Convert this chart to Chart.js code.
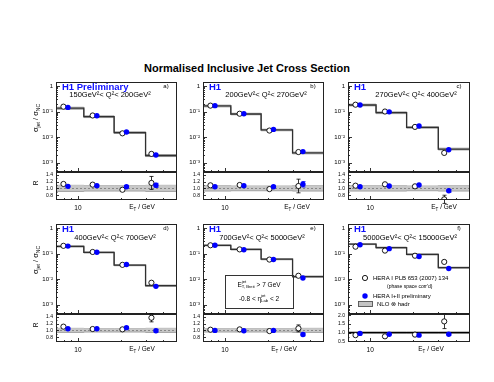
<!DOCTYPE html>
<html>
<head>
<meta charset="utf-8">
<title>Normalised Inclusive Jet Cross Section</title>
<script src="https://cdn.jsdelivr.net/npm/chart.js@4.4.1/dist/chart.umd.min.js"></script>
<style>
  body { margin: 0; width: 494px; height: 382px; background: #fff; position: relative; overflow: hidden; }
  #title { position: absolute; left: 0; top: 62px; width: 494px; text-align: center; font: bold 11px "Liberation Sans", Arial, sans-serif; }
  canvas { position: absolute; }
</style>
</head>
<body>
<div id="title">Normalised Inclusive Jet Cross Section</div>
<script>
// panels a) .. f)
const panelTags = ['a)', 'b)', 'c)', 'd)', 'e)', 'f)'];
const experimentTags = ['H1 Preliminary', 'H1', 'H1', 'H1', 'H1', 'H1'];
const q2Ranges = [
  '150GeV²< Q²< 200GeV²',
  '200GeV²< Q²< 270GeV²',
  '270GeV²< Q²< 400GeV²',
  '400GeV²< Q²< 700GeV²',
  '700GeV²< Q²< 5000GeV²',
  '5000GeV²< Q²< 15000GeV²'
];
const binEdges = [7, 11, 18, 30, 50];
const etHeraI = [7.9, 12.7, 20.6, 33.0];
const etHeraII = [8.5, 13.6, 22.0, 35.5];

const nloXsec = [
  [0.135, 0.063, 0.0150, 0.0019],
  [0.165, 0.080, 0.0190, 0.0024],
  [0.180, 0.090, 0.0240, 0.0034],
  [0.190, 0.110, 0.0350, 0.0055],
  [0.210, 0.145, 0.0600, 0.0125],
  [0.235, 0.170, 0.0920, 0.0280]
];
const nloRelErr = [
  [0.09, 0.08, 0.08, 0.09],
  [0.08, 0.07, 0.07, 0.08],
  [0.08, 0.08, 0.07, 0.08],
  [0.06, 0.05, 0.05, 0.06],
  [0.05, 0.05, 0.05, 0.06],
  [0.05, 0.05, 0.05, 0.05]
];
const heraIXsec = [
  [0.155, 0.070, 0.0140, 0.0022],
  [0.170, 0.082, 0.0180, 0.0026],
  [0.185, 0.100, 0.0250, 0.0024],
  [0.200, 0.115, 0.0360, 0.0072],
  [0.210, 0.145, 0.0580, 0.0135],
  [0.185, 0.130, 0.0820, 0.0470]
];
const heraIIXsec = [
  [0.145, 0.068, 0.0157, 0.0020],
  [0.170, 0.082, 0.0200, 0.0027],
  [0.180, 0.097, 0.0270, 0.0032],
  [0.195, 0.112, 0.0370, 0.0052],
  [0.210, 0.140, 0.0580, 0.0110],
  [0.220, 0.155, 0.0760, 0.0260]
];
const heraIRatio = [
  [1.13, 1.11, 0.96, 1.16],
  [1.09, 1.10, 0.98, 1.07],
  [1.08, 1.12, 1.06, 0.68],
  [1.11, 1.04, 1.03, 1.37],
  [1.02, 1.03, 0.98, 1.06],
  [0.85, 0.78, 0.88, 1.65]
];
const heraIRatioErr = [
  [0.02, 0.02, 0.03, 0.19],
  [0.02, 0.02, 0.03, 0.20],
  [0.02, 0.02, 0.03, 0.12],
  [0.02, 0.02, 0.03, 0.12],
  [0.02, 0.02, 0.04, 0.10],
  [0.03, 0.03, 0.05, 0.42]
];
const heraIIRatio = [
  [1.06, 1.08, 1.05, 1.09],
  [1.05, 1.08, 1.05, 1.12],
  [1.05, 1.07, 1.10, 0.93],
  [1.05, 1.05, 1.08, 0.99],
  [1.00, 0.99, 1.00, 0.88],
  [0.95, 0.90, 0.85, 0.90]
];
const heraIIRatioErr = [
  [0.01, 0.01, 0.02, 0.06],
  [0.01, 0.01, 0.02, 0.08],
  [0.01, 0.01, 0.02, 0.04],
  [0.01, 0.01, 0.02, 0.04],
  [0.01, 0.01, 0.02, 0.04],
  [0.01, 0.01, 0.02, 0.05]
];
const xsecTicks = [0.001, 0.01, 0.1, 1];
const ratioTicks = [
  [0.8, 1.0, 1.2, 1.4], [0.8, 1.0, 1.2, 1.4], [0.8, 1.0, 1.2, 1.4],
  [0.8, 1.0, 1.2, 1.4], [0.8, 1.0, 1.2, 1.4], [0.5, 1.0, 1.5, 2.0]
];
const ratioRange = [[0.66, 1.48], [0.66, 1.48], [0.66, 1.48], [0.66, 1.48], [0.66, 1.48], [0.45, 2.08]];
const etTicks = [10];

// layout (page pixels)
const FONT = '"Liberation Sans", Arial, Helvetica, sans-serif';
const colL = [56, 203, 348], colR = [177, 324, 470];
const rowT = [82, 224], rowB = [172, 314], rowRB = [200, 342];
const ML = 30, MR = 6, PADV = 8, XAX = 22;
const q2Dx = [54, 63, 68, 59, 59, 62];
const xTitleDx = [86, 94, 96, 86, 81, 83];

function makeCanvas(x, y, w, h) {
  const c = document.createElement('canvas');
  c.width = w; c.height = h;
  c.style.left = x + 'px'; c.style.top = y + 'px';
  c.style.width = w + 'px'; c.style.height = h + 'px';
  document.body.appendChild(c);
  return c;
}

// text with sub/superscripts: parts {t, s, dy, w, stay}
function rich(ctx, parts, x, y, align) {
  let width = 0;
  parts.forEach(p => {
    ctx.font = (p.w || 'normal') + ' ' + p.s + 'px ' + FONT;
    if (!p.stay) width += ctx.measureText(p.t).width;
  });
  let cx = align === 'center' ? x - width / 2 : (align === 'right' ? x - width : x);
  ctx.textAlign = 'left';
  ctx.textBaseline = 'middle';
  parts.forEach(p => {
    ctx.font = (p.w || 'normal') + ' ' + p.s + 'px ' + FONT;
    ctx.fillText(p.t, cx, y + (p.dy || 0));
    if (!p.stay) cx += ctx.measureText(p.t).width;
  });
}

function pts(xs, ys) {
  return xs.map((x, i) => ({ x: x, y: ys[i] }));
}

function logLabel(v) {
  const e = Math.round(Math.log10(v));
  return e === 0 ? '1' : '10⁻' + '¹²³⁴'[-e - 1];
}

function drawFrame(chart, xMarks, yMarks) {
  const { ctx, chartArea: a, scales } = chart;
  ctx.save();
  ctx.strokeStyle = '#000';
  ctx.lineWidth = 0.8;
  ctx.beginPath();
  xMarks.forEach(([v, len]) => {
    const px = Math.round(scales.x.getPixelForValue(v)) + 0.5;
    ctx.moveTo(px, a.bottom); ctx.lineTo(px, a.bottom - len);
  });
  yMarks.forEach(([v, len]) => {
    const py = Math.round(scales.y.getPixelForValue(v)) + 0.5;
    ctx.moveTo(a.left, py); ctx.lineTo(a.left + len, py);
  });
  ctx.stroke();
  ctx.strokeStyle = '#222';
  ctx.lineWidth = 1;
  ctx.strokeRect(a.left + 0.5, a.top + 0.5, a.right - a.left - 1, a.bottom - a.top - 1);
  ctx.restore();
}

const etMarks = [[7, 2], [8, 2], [9, 2], [10, 4], [20, 2], [30, 2], [40, 2]];
const xsecMarks = [];
for (let d = -4; d <= 0; d++) {
  for (let m = 1; m <= 9; m++) {
    const v = m * Math.pow(10, d);
    if (v > 4.3e-4 && v < 1.43) xsecMarks.push([v, m === 1 ? 4 : 2]);
  }
}

const common = {
  responsive: false,
  animation: false,
  devicePixelRatio: 1,
  events: [],
  plugins: { legend: { display: false }, tooltip: { enabled: false } }
};

function makePanel(p) {
  const c = p % 3, r = Math.floor(p / 3);
  const L = colL[c], R = colR[c], T = rowT[r], B = rowB[r], RB = rowRB[r];
  const W = ML + (R - L) + MR;
  const nlo = nloXsec[p], err = nloRelErr[p];
  const last = i => Math.min(i, nlo.length - 1);

  // ---- cross section panel ----
  const mainDeco = {
    id: 'mainDeco',
    afterDraw(chart) {
      const { ctx, chartArea: a } = chart;
      drawFrame(chart, etMarks, xsecMarks);
      ctx.save();
      ctx.fillStyle = '#1010ff';
      rich(ctx, [{ t: experimentTags[p], s: 9.5, w: 'bold' }], a.left + 6, a.top + 5, 'left');
      ctx.fillStyle = '#000';
      rich(ctx, [{ t: panelTags[p], s: 6 }], a.right - 11, a.top + 4, 'center');
      rich(ctx, [{ t: q2Ranges[p], s: 7.5 }], a.left + q2Dx[p], a.top + 13 + r, 'center');
      if (c === 0) {
        ctx.save();
        ctx.translate(a.left - 20, a.top + 36);
        ctx.rotate(-Math.PI / 2);
        rich(ctx, [{ t: 'σ', s: 7.5 }, { t: 'jet', s: 5, dy: 2.5 }, { t: ' / σ', s: 7.5 }, { t: 'NC', s: 5, dy: 2.5 }], 0, 0, 'center');
        ctx.restore();
      }
      if (p === 4) {
        ctx.strokeStyle = '#333';
        ctx.lineWidth = 1;
        ctx.strokeRect(a.left + 22.5, a.top + 51.5, 68, 33);
        rich(ctx, [{ t: 'E', s: 6.5 }, { t: 'jet', s: 4.2, dy: -3, stay: true }, { t: 'T, Breit', s: 4.2, dy: 2 },
                   { t: ' > 7 GeV', s: 6.5 }], a.left + 56, a.top + 61, 'center');
        rich(ctx, [{ t: '-0.8 < η', s: 6.5 }, { t: 'jet', s: 4.2, dy: -3, stay: true }, { t: 'Lab', s: 4.2, dy: 2 },
                   { t: ' < 2', s: 6.5 }], a.left + 56, a.top + 75, 'center');
      }
      if (p === 5) {
        ctx.lineWidth = 0.9;
        ctx.strokeStyle = '#000';
        ctx.fillStyle = '#fff';
        ctx.beginPath(); ctx.arc(a.left + 17, a.top + 54, 2.6, 0, 2 * Math.PI); ctx.fill(); ctx.stroke();
        ctx.fillStyle = '#0000ff';
        ctx.beginPath(); ctx.arc(a.left + 17, a.top + 72, 2.7, 0, 2 * Math.PI); ctx.fill();
        ctx.fillStyle = '#c4c4c4';
        ctx.fillRect(a.left + 10, a.top + 77, 15, 6);
        ctx.strokeStyle = '#555';
        ctx.strokeRect(a.left + 10.5, a.top + 77.5, 14, 5);
        ctx.fillStyle = '#000';
        rich(ctx, [{ t: 'HERA I PLB 653 (2007) 134', s: 6 }], a.left + 25, a.top + 54, 'left');
        rich(ctx, [{ t: "(phase space corr'd)", s: 5 }], a.left + 39, a.top + 63, 'left');
        rich(ctx, [{ t: 'HERA I+II preliminary', s: 6 }], a.left + 25, a.top + 72, 'left');
        rich(ctx, [{ t: 'NLO ⊗ hadr', s: 6 }], a.left + 29, a.top + 80, 'left');
      }
      ctx.restore();
    }
  };

  new Chart(makeCanvas(L - ML, T - PADV, W, (B - T) + 2 * PADV), {
    type: 'scatter',
    data: {
      datasets: [
        { data: binEdges.map((x, i) => ({ x: x, y: nlo[last(i)] * (1 + err[last(i)]) })), showLine: true, stepped: true,
          borderColor: '#808080', borderWidth: 0.7, pointRadius: 0, order: 4 },
        { data: binEdges.map((x, i) => ({ x: x, y: nlo[last(i)] * (1 - err[last(i)]) })), showLine: true, stepped: true,
          borderColor: '#808080', borderWidth: 0.7, pointRadius: 0, fill: '-1', backgroundColor: '#c4c4c4', order: 3 },
        { data: binEdges.map((x, i) => ({ x: x, y: nlo[last(i)] })), showLine: true, stepped: true,
          borderColor: '#303030', borderWidth: 1.3, pointRadius: 0, order: 2 },
        { data: pts(etHeraI, heraIXsec[p]), pointRadius: 2.6, pointBackgroundColor: '#fff',
          pointBorderColor: '#000', pointBorderWidth: 0.9, order: 1 },
        { data: pts(etHeraII, heraIIXsec[p]), pointRadius: 2.7, pointBackgroundColor: '#0000ff',
          pointBorderColor: '#0000ff', pointBorderWidth: 0, order: 0 }
      ]
    },
    options: Object.assign({}, common, {
      layout: { padding: { left: 0, right: MR, top: PADV, bottom: PADV } },
      scales: {
        x: { type: 'logarithmic', min: binEdges[0], max: binEdges[binEdges.length - 1], display: false },
        y: {
          type: 'logarithmic', min: 4.3e-4, max: 1.43,
          afterFit: s => { s.width = ML; },
          afterBuildTicks: s => { s.ticks = xsecTicks.map(v => ({ value: v })); },
          ticks: { callback: v => logLabel(v), font: { size: 6, family: FONT }, color: '#000', padding: 3, autoSkip: false },
          grid: { display: false, drawTicks: false },
          border: { display: false }
        }
      }
    }),
    plugins: [mainDeco]
  });

  // ---- ratio panel ----
  const rTicks = ratioTicks[p], rRange = ratioRange[p];
  const step = rTicks[1] - rTicks[0];
  const ratioMarks = [];
  for (let v = rTicks[0] - step; v <= rRange[1]; v += step / 2) {
    if (v >= rRange[0]) ratioMarks.push([v, Math.abs(((v - rTicks[0]) / step) % 1) < 0.01 ? 3 : 1.5]);
  }

  const ratioDeco = {
    id: 'ratioDeco',
    afterDatasetDraw(chart, args) {
      if (args.index !== 2) return;
      const { ctx, scales: { x, y } } = chart;
      ctx.save();
      ctx.lineWidth = 0.8;
      [[etHeraI, heraIRatio[p], heraIRatioErr[p], '#000'], [etHeraII, heraIIRatio[p], heraIIRatioErr[p], '#0000ff']].forEach(([xs, ys, es, col]) => {
        ctx.strokeStyle = col;
        ctx.beginPath();
        xs.forEach((xv, i) => {
          if (es[i] < 0.03) return;
          const px = Math.round(x.getPixelForValue(xv)) + 0.5;
          const y1 = y.getPixelForValue(ys[i] - es[i]), y2 = y.getPixelForValue(ys[i] + es[i]);
          ctx.moveTo(px, y1); ctx.lineTo(px, y2);
          ctx.moveTo(px - 2, y1); ctx.lineTo(px + 2, y1);
          ctx.moveTo(px - 2, y2); ctx.lineTo(px + 2, y2);
        });
        ctx.stroke();
      });
      ctx.restore();
    },
    afterDraw(chart) {
      const { ctx, chartArea: a } = chart;
      drawFrame(chart, etMarks, ratioMarks);
      ctx.save();
      ctx.fillStyle = '#000';
      rich(ctx, [{ t: 'E', s: 6.5 }, { t: 'T', s: 4.5, dy: 2 }, { t: ' / GeV', s: 6.5 }], a.left + xTitleDx[p], a.bottom + 7.5, 'center');
      if (c === 0) {
        ctx.save();
        ctx.translate(a.left - 20, a.top + 11);
        ctx.rotate(-Math.PI / 2);
        rich(ctx, [{ t: 'R', s: 6.5 }], 0, 0, 'center');
        ctx.restore();
      }
      ctx.restore();
    }
  };

  new Chart(makeCanvas(L - ML, B - PADV, W, (RB - B) + PADV + XAX), {
    type: 'scatter',
    data: {
      datasets: [
        { data: binEdges.map((x, i) => ({ x: x, y: 1 + err[last(i)] })), showLine: true, stepped: true,
          borderColor: '#8a8a8a', borderWidth: 0.7, pointRadius: 0, order: 4 },
        { data: binEdges.map((x, i) => ({ x: x, y: 1 - err[last(i)] })), showLine: true, stepped: true,
          borderColor: '#8a8a8a', borderWidth: 0.7, pointRadius: 0, fill: '-1', backgroundColor: '#c8c8c8', order: 3 },
        { data: [{ x: binEdges[0], y: 1 }, { x: binEdges[binEdges.length - 1], y: 1 }], showLine: true,
          borderColor: p === 5 ? '#000' : '#777', borderWidth: p === 5 ? 1.2 : 0.8, borderDash: p === 5 ? [] : [2, 2],
          pointRadius: 0, order: 2 },
        { data: pts(etHeraI, heraIRatio[p]), pointRadius: 2.6, pointBackgroundColor: '#fff',
          pointBorderColor: '#000', pointBorderWidth: 0.9, order: 1 },
        { data: pts(etHeraII, heraIIRatio[p]), pointRadius: 2.7, pointBackgroundColor: '#0000ff',
          pointBorderColor: '#0000ff', pointBorderWidth: 0, order: 0 }
      ]
    },
    options: Object.assign({}, common, {
      layout: { padding: { left: 0, right: MR, top: PADV, bottom: 0 } },
      scales: {
        x: {
          type: 'logarithmic', min: binEdges[0], max: binEdges[binEdges.length - 1],
          afterFit: s => { s.height = XAX; },
          afterBuildTicks: s => { s.ticks = etTicks.map(v => ({ value: v })); },
          ticks: { callback: v => String(v), font: { size: 6.5, family: FONT }, color: '#000', padding: 4, autoSkip: false, maxRotation: 0 },
          grid: { display: false, drawTicks: false },
          border: { display: false }
        },
        y: {
          type: 'linear', min: rRange[0], max: rRange[1],
          afterFit: s => { s.width = ML; },
          afterBuildTicks: s => { s.ticks = rTicks.map(v => ({ value: v })); },
          ticks: { callback: v => v.toFixed(1), font: { size: 5, family: FONT }, color: '#000', padding: 3, autoSkip: false },
          grid: { display: false, drawTicks: false },
          border: { display: false }
        }
      }
    }),
    plugins: [ratioDeco]
  });
}

for (let p = 0; p < 6; p++) makePanel(p);
</script>
</body>
</html>
